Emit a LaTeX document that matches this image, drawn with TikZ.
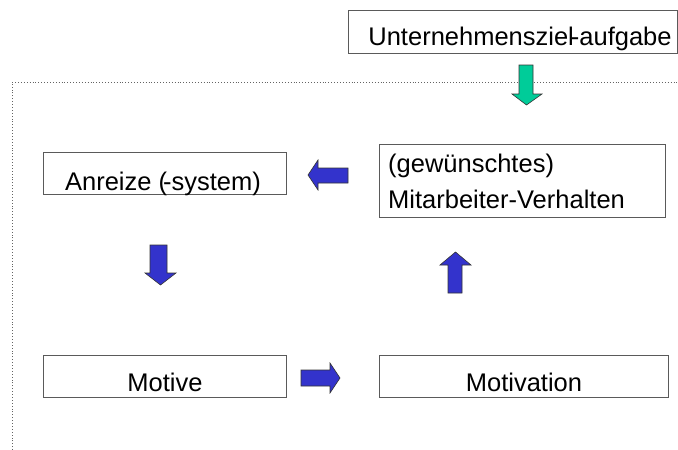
\documentclass[tikz,border=0pt]{standalone}
\usepackage{fontspec}
\setmainfont{Liberation Sans}
\definecolor{boxline}{RGB}{90,90,90}
\definecolor{arrowblue}{RGB}{51,51,204}
\definecolor{arrowgreen}{RGB}{0,204,153}
\definecolor{dotline}{RGB}{100,100,100}
\begin{document}
\begin{tikzpicture}[x=1pt,y=-1pt,
  textbox/.style={draw=boxline,line width=1pt,fill=white},
  label/.style={font=\fontsize{25.5}{36}\selectfont,inner sep=0pt,anchor=base},
  bluearrow/.style={fill=arrowblue,draw=black!80,line width=0.6pt,line join=miter},
  greenarrow/.style={fill=arrowgreen,draw=black!80,line width=0.6pt,line join=miter},
  frameline/.style={draw=dotline,line width=0.9pt,dotted}]
\useasboundingbox (0,0) rectangle (678,450);
% dotted frame
\coordinate (fl) at (12,450);
\coordinate (fc) at (12,82);
\coordinate (fr) at (678,82);
\draw[frameline] (fl) -- (fc) -- (fr);
% boxes
\node[textbox,minimum width=329pt,minimum height=43pt,anchor=north west] (ziel) at (348,10) {};
\node[label] (zieltxt) at (520,45) {Unternehmensziel\kern-3pt-aufgabe};
\node[textbox,minimum width=243pt,minimum height=42pt,anchor=north west] (anreiz) at (43,152) {};
\node[label] (anreiztxt) at (163,190) {Anreize (\kern-4pt-system)};
\node[textbox,minimum width=286pt,minimum height=73pt,anchor=north west] (verh) at (379,144) {};
\node[label,anchor=base west] (verh1) at (388,172) {(gewünschtes)};
\node[label,anchor=base west] (verh2) at (388,208) {Mitarbeiter-Verhalten};
\node[textbox,minimum width=243pt,minimum height=42pt,anchor=north west] (motive) at (43,355) {};
\node[label] (motivetxt) at (165,391) {Motive};
\node[textbox,minimum width=289pt,minimum height=42pt,anchor=north west] (motiv) at (379,355) {};
\node[label] (motivtxt) at (524,391) {Motivation};
% block arrows
\draw[greenarrow] (519,65) -- (533,65) -- (533,94) -- (542,94) -- (526.5,105) -- (512,94) -- (519,94) -- cycle;
\draw[bluearrow] (348,168) -- (348,183) -- (318,183) -- (318,190) -- (308,175) -- (318,160) -- (318,168) -- cycle;
\draw[bluearrow] (150,245) -- (167,245) -- (167,273) -- (176,273) -- (160.5,285) -- (145,273) -- (150,273) -- cycle;
\draw[bluearrow] (448,293) -- (462,293) -- (462,265) -- (471,265) -- (455.5,252) -- (440,265) -- (448,265) -- cycle;
\draw[bluearrow] (301,370) -- (330,370) -- (330,363) -- (340,378) -- (330,393) -- (330,386) -- (301,386) -- cycle;
\end{tikzpicture}
\end{document}
